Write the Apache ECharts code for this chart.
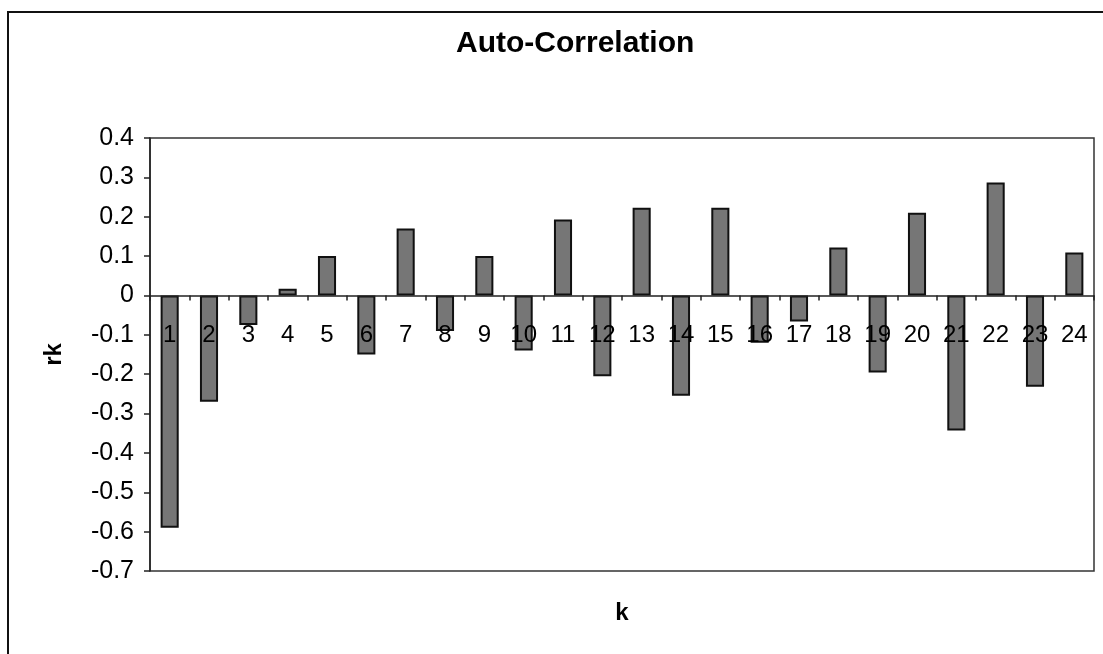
<!DOCTYPE html>
<html>
<head>
<meta charset="utf-8">
<script src="https://cdn.jsdelivr.net/npm/echarts@6/dist/echarts.min.js"></script>
<style>
html,body{margin:0;padding:0;background:#fff;}
#chart{width:1103px;height:654px;}
</style>
</head>
<body>
<div id="chart"></div>
<script>
const categories = ['1','2','3','4','5','6','7','8','9','10','11','12','13','14','15','16','17','18','19','20','21','22','23','24'];
const rkValues = [-0.59, -0.27, -0.075, 0.017, 0.10, -0.15, 0.17, -0.09, 0.10, -0.14, 0.193, -0.205, 0.223, -0.255, 0.223, -0.12, -0.066, 0.122, -0.196, 0.21, -0.343, 0.287, -0.232, 0.109];
const yTicks = { min: -0.7, max: 0.4, interval: 0.1 };

const font = '"Liberation Sans", Arial, sans-serif';
const W = 1103, H = 654;
const gridTop = 138, gridBottom = 83;
const plotH = H - gridTop - gridBottom;
// distance from plot bottom up to the zero line (so the category axis sits at 0)
const zeroLift = plotH * (0 - yTicks.min) / (yTicks.max - yTicks.min);

const chart = echarts.init(document.getElementById('chart'));
chart.setOption({
  backgroundColor: '#ffffff',
  animation: false,
  title: {
    text: 'Auto-Correlation',
    left: 451,
    top: 24,
    textStyle: { fontFamily: font, fontWeight: 'bold', fontSize: 30, color: '#000' }
  },
  graphic: [{
    type: 'rect',
    shape: { x: 8, y: 12, width: 1120, height: 700 },
    style: { fill: 'none', stroke: '#111', lineWidth: 2 },
    silent: true
  }],
  grid: {
    left: 150, top: gridTop, right: 9, bottom: gridBottom,
    containLabel: false,
    outerBoundsMode: 'none',
    show: true, borderColor: '#333', borderWidth: 1.5, backgroundColor: 'transparent'
  },
  xAxis: {
    type: 'category',
    data: categories,
    offset: -zeroLift,
    z: 10,
    name: 'k',
    nameLocation: 'middle',
    nameGap: 306,
    nameTextStyle: { fontFamily: font, fontWeight: 'bold', fontSize: 24, color: '#000' },
    axisLine: { onZero: false, lineStyle: { color: '#222', width: 1.5 } },
    axisTick: { show: true, alignWithLabel: false, inside: false, length: 5, lineStyle: { color: '#222', width: 1.5 } },
    axisLabel: { fontFamily: font, fontSize: 24, color: '#000', margin: 28, interval: 0, hideOverlap: false },
    splitLine: { show: false }
  },
  yAxis: {
    type: 'value',
    min: yTicks.min, max: yTicks.max, interval: yTicks.interval,
    name: 'rk',
    nameLocation: 'middle',
    nameGap: 84,
    nameRotate: 90,
    nameTextStyle: { fontFamily: font, fontWeight: 'bold', fontSize: 24, color: '#000' },
    axisLine: { show: true, lineStyle: { color: '#222', width: 1.5 } },
    axisTick: { show: true, inside: false, length: 6, lineStyle: { color: '#222', width: 1.5 } },
    axisLabel: {
      fontFamily: font, fontSize: 25, color: '#000', margin: 16,
      formatter: v => { const r = Math.round(v * 10) / 10; return r === 0 ? '0' : r.toFixed(1); }
    },
    splitLine: { show: false }
  },
  series: [{
    type: 'bar',
    z: 2,
    data: rkValues,
    barWidth: '46%',
    itemStyle: { color: '#767676', borderColor: '#111', borderWidth: 2 }
  }]
});
</script>
</body>
</html>
